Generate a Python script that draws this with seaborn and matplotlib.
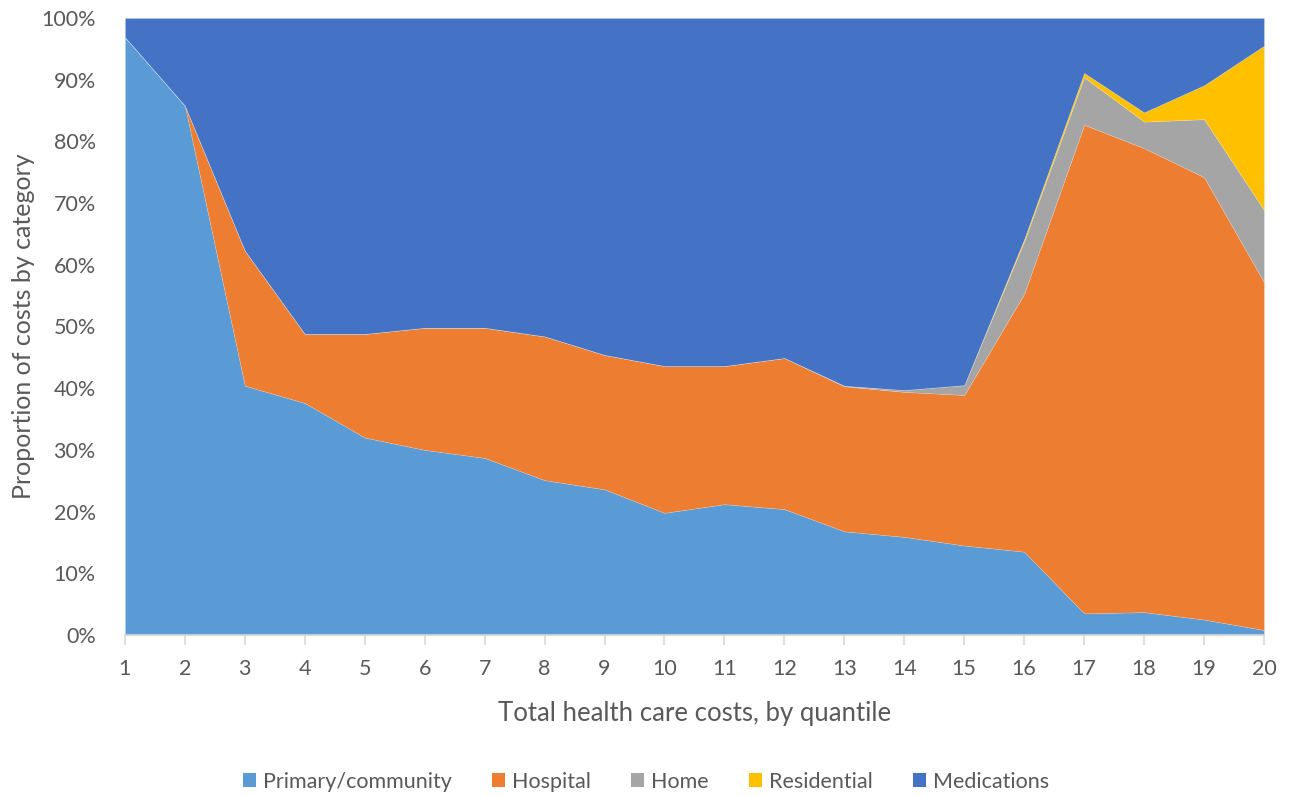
import matplotlib
matplotlib.use("Agg")
import matplotlib.pyplot as plt
from matplotlib.patches import Patch
from matplotlib.ticker import PercentFormatter
import seaborn as sns

# Share of total health care costs (%) by category, for each cost quantile
quantiles = list(range(1, 21))
primary = [96.9, 85.8, 40.4, 37.6, 32.0, 30.0, 28.7, 25.1, 23.6, 19.8,
           21.2, 20.4, 16.8, 15.9, 14.5, 13.5, 3.5, 3.7, 2.5, 0.8]
hospital = [0.0, 0.0, 21.9, 11.2, 16.8, 19.8, 21.1, 23.3, 21.8, 23.8,
            22.4, 24.5, 23.5, 23.5, 24.4, 41.8, 79.2, 75.2, 71.7, 56.4]
home = [0.0, 0.0, 0.0, 0.0, 0.0, 0.0, 0.0, 0.0, 0.0, 0.0,
        0.0, 0.0, 0.1, 0.3, 1.6, 8.5, 7.7, 4.3, 9.4, 11.7]
residential = [0.0, 0.0, 0.0, 0.0, 0.0, 0.0, 0.0, 0.0, 0.0, 0.0,
               0.0, 0.0, 0.0, 0.0, 0.0, 0.4, 0.7, 1.5, 5.5, 26.6]
medications = [3.1, 14.2, 37.7, 51.2, 51.2, 50.2, 50.2, 51.6, 54.6, 56.4,
               56.4, 55.1, 59.6, 60.3, 59.5, 35.8, 8.9, 15.3, 10.9, 4.5]

labels = ["Primary/community", "Hospital", "Home", "Residential", "Medications"]
colors = ["#5B9BD5", "#ED7D31", "#A5A5A5", "#FFC000", "#4472C4"]

sns.set_theme(style="white")
plt.rcParams["font.family"] = ["Lato", "DejaVu Sans"]
text_color = "#595959"

fig = plt.figure(figsize=(12.92, 7.96), dpi=100)
ax = fig.add_axes([0.0967, 0.2023, 0.8816, 0.7751])

ax.stackplot(quantiles, primary, hospital, home, residential, medications,
             colors=sns.color_palette(colors), linewidth=0.4,
             edgecolor="#FFFFFF40")

ax.set_xlim(1, 20)
ax.set_ylim(0, 100)
ax.set_xticks(quantiles)
ax.set_yticks(range(0, 101, 10))
ax.yaxis.set_major_formatter(PercentFormatter(decimals=0))

sns.despine(ax=ax, left=True, top=True, right=True)
ax.spines["bottom"].set_color("#D9D9D9")
ax.spines["bottom"].set_linewidth(1.2)
ax.tick_params(axis="x", bottom=True, length=7, width=1.2, color="#D9D9D9",
               labelsize=15.5, labelcolor=text_color, pad=10)
ax.tick_params(axis="y", left=False, labelsize=15.5, labelcolor=text_color, pad=15)

ax.set_xlabel("Total health care costs, by quantile", fontsize=18.5,
              color=text_color, labelpad=16)
ax.set_ylabel("Proportion of costs by category", fontsize=18,
              color=text_color)
ax.yaxis.set_label_coords(-0.079, 0.5)

handles = [Patch(facecolor=c, edgecolor="none") for c in colors]
fig.legend(handles, labels, loc="center", bbox_to_anchor=(0.5, 0.018),
           ncol=5, frameon=False, fontsize=15.5, labelcolor=text_color,
           handlelength=0.6, handleheight=0.6, handletextpad=0.3,
           columnspacing=1.9)

fig.savefig("out.png", dpi=100)
